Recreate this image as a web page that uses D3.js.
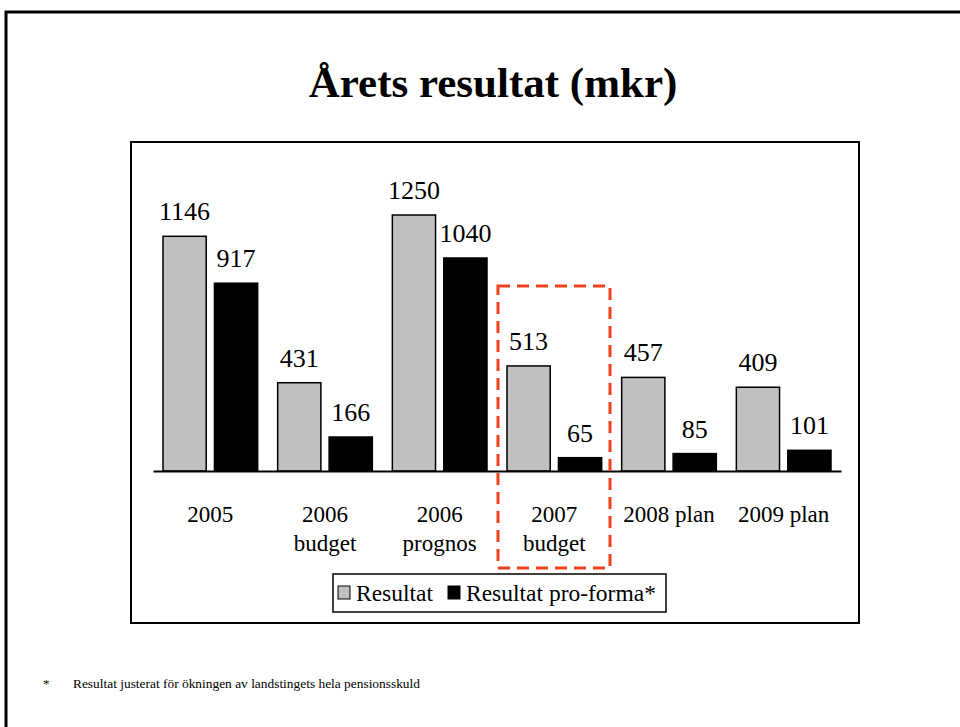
<!DOCTYPE html>
<html><head><meta charset="utf-8">
<script src="https://cdn.jsdelivr.net/npm/d3@7"></script>
<style>html,body{margin:0;padding:0;background:#fff;}svg{display:block;} text{font-family:"Liberation Serif","Times New Roman",serif;}</style>
</head><body>
<svg id="c" width="960" height="727"></svg>
<script>
const categories = [["2005"],["2006","budget"],["2006","prognos"],["2007","budget"],["2008 plan"],["2009 plan"]];
const resultat = [1146, 431, 1250, 513, 457, 409];
const proforma = [917, 166, 1040, 65, 85, 101];
const seriesNames = ["Resultat", "Resultat pro-forma*"];
const seriesColors = ["#c0c0c0", "#000000"];
const title = "Årets resultat (mkr)";
const footnote = "Resultat justerat för ökningen av landstingets hela pensionsskuld";
const FF = "'Liberation Serif','Times New Roman',serif";

const svg = d3.select("#c");
// slide border
svg.append("path").attr("d","M6,740 L6,12 L975,12").attr("fill","none").attr("stroke","#000").attr("stroke-width",3);

svg.append("text").attr("x",493).attr("y",97).attr("text-anchor","middle").attr("font-family",FF)
  .attr("font-size",43).attr("font-weight","bold").text(title);

// plot frame
svg.append("rect").attr("x",131).attr("y",142).attr("width",728).attr("height",481)
  .attr("fill","none").attr("stroke","#000").attr("stroke-width",2);

const idx = d3.range(categories.length);
const x = d3.scaleBand().domain(idx).range([153,841]).padding(0);
const xi = d3.scaleBand().domain([0,1]).range([10, x.bandwidth()-10]).paddingInner(0.16);
const y = d3.scaleLinear().domain([0,1250]).range([471,215]);

const data = idx.flatMap(i => [
  {i, s:0, v:resultat[i]},
  {i, s:1, v:proforma[i]}
]);

const g = svg.append("g");
g.selectAll("rect.bar").data(data).join("rect").attr("class","bar")
  .attr("x", d => x(d.i)+xi(d.s))
  .attr("y", d => y(d.v))
  .attr("width", xi.bandwidth())
  .attr("height", d => y(0)-y(d.v))
  .attr("fill", d => seriesColors[d.s])
  .attr("stroke","#000").attr("stroke-width",1.5);

g.selectAll("text.val").data(data).join("text").attr("class","val")
  .attr("x", d => x(d.i)+xi(d.s)+xi.bandwidth()/2)
  .attr("y", d => y(d.v)-16)
  .attr("text-anchor","middle").attr("font-family",FF).attr("font-size",26).text(d => d.v);

// baseline axis
const ax = svg.append("g").attr("transform","translate(0,471)")
  .call(d3.axisBottom(x).tickSize(0).tickFormat(""));
ax.select(".domain").attr("stroke","#000").attr("stroke-width",2);

idx.forEach(i => {
  const t = svg.append("text").attr("x", x(i)+x.bandwidth()/2).attr("y",522)
    .attr("text-anchor","middle").attr("font-family",FF).attr("font-size",23);
  categories[i].forEach((line,k) => t.append("tspan").attr("x", x(i)+x.bandwidth()/2).attr("y",522+k*29).text(line));
});

// highlight box
svg.append("rect").attr("x",498).attr("y",286).attr("width",112).attr("height",282)
  .attr("fill","none").attr("stroke","#f0401c").attr("stroke-width",3).attr("stroke-dasharray","12,7");

// legend
const lg = svg.append("g");
lg.append("rect").attr("x",333).attr("y",574).attr("width",333).attr("height",38)
  .attr("fill","#fff").attr("stroke","#000").attr("stroke-width",1.5);
const lx = [338, 448];
seriesNames.forEach((n,k) => {
  lg.append("rect").attr("x",lx[k]).attr("y",586).attr("width",12).attr("height",13)
    .attr("fill",seriesColors[k]).attr("stroke","#000").attr("stroke-width",1);
  lg.append("text").attr("x",lx[k]+18).attr("y",601).attr("font-family",FF).attr("font-size",23.5).text(n);
});

// footnote
svg.append("text").attr("x",43).attr("y",688).attr("font-family",FF).attr("font-size",13).text("*");
svg.append("text").attr("x",73).attr("y",688).attr("font-family",FF).attr("font-size",13.4).text(footnote);
</script>
</body></html>
